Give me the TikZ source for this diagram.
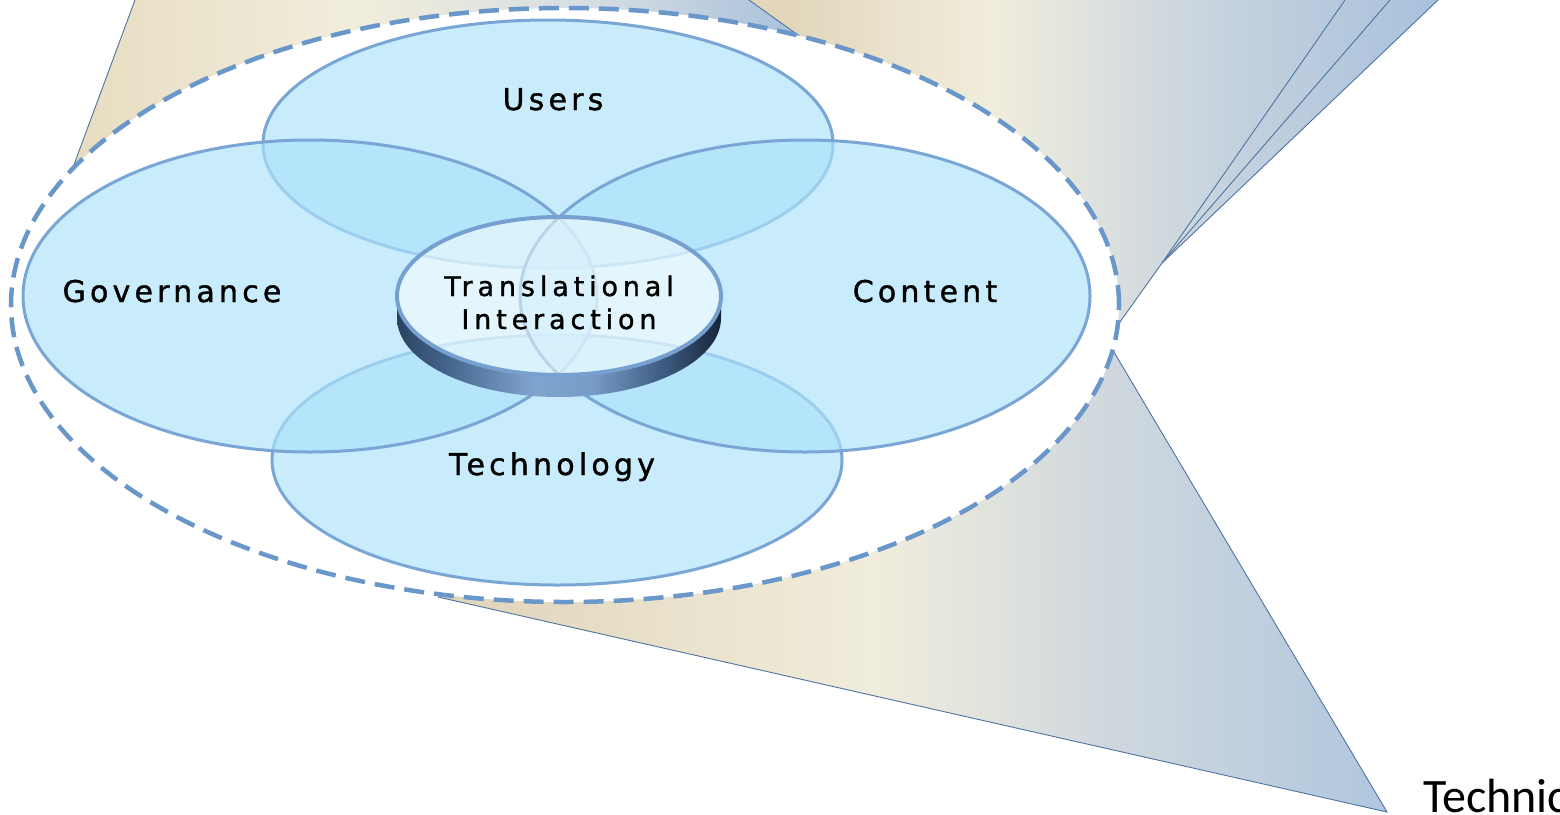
\documentclass[tikz,border=0pt]{standalone}
\usepackage{fontspec}
\newfontfamily\vennfont[LetterSpace=14,FakeBold=1.2]{DejaVu Sans}
\newfontfamily\discfont[LetterSpace=18,FakeBold=1.2]{DejaVu Sans}
\newfontfamily\calfont{Carlito}
\definecolor{fanline}{RGB}{79,115,160}
\definecolor{dashblue}{RGB}{106,151,201}
\definecolor{vennfill}{RGB}{173,227,250}
\definecolor{vennline}{RGB}{122,166,214}
\definecolor{faceline}{RGB}{118,160,208}
\definecolor{aBeige}{RGB}{230,220,192}
\definecolor{aCream}{RGB}{242,238,221}
\definecolor{aGrey}{RGB}{212,220,226}
\definecolor{aBlue}{RGB}{168,192,220}
\definecolor{bBeige}{RGB}{226,215,188}
\definecolor{bCream}{RGB}{241,237,221}
\definecolor{bGrey}{RGB}{200,212,222}
\definecolor{bBlue}{RGB}{166,192,220}
\definecolor{cBeige}{RGB}{224,212,184}
\definecolor{cCream}{RGB}{241,237,220}
\definecolor{cGrey}{RGB}{208,216,222}
\definecolor{cBlue}{RGB}{176,199,222}
\definecolor{dsA}{RGB}{42,66,96}
\definecolor{dsB}{RGB}{70,102,142}
\definecolor{dsC}{RGB}{128,164,208}
\definecolor{dsD}{RGB}{120,156,200}
\definecolor{dsE}{RGB}{62,92,130}
\definecolor{dsF}{RGB}{22,36,56}
\pgfdeclarehorizontalshading{fanA}{100bp}{color(0bp)=(aBeige); color(25bp)=(aBeige); color(44bp)=(aCream); color(61bp)=(aGrey); color(75bp)=(aBlue); color(100bp)=(aBlue)}
\pgfdeclarehorizontalshading{fanB}{100bp}{color(0bp)=(bBeige); color(29bp)=(bBeige); color(43bp)=(bCream); color(58bp)=(bGrey); color(75bp)=(bBlue); color(100bp)=(bBlue)}
\pgfdeclarehorizontalshading{fanC}{100bp}{color(0bp)=(cBeige); color(25bp)=(cBeige); color(48bp)=(cCream); color(60bp)=(cGrey); color(75bp)=(cBlue); color(100bp)=(cBlue)}
\pgfdeclarehorizontalshading{discside}{100bp}{color(0bp)=(dsA); color(25bp)=(dsA); color(33bp)=(dsB); color(46bp)=(dsC); color(55bp)=(dsD); color(66bp)=(dsE); color(75bp)=(dsF); color(100bp)=(dsF)}
\tikzset{
  edge/.style={fanline, line width=0.9pt},
  venn/.style={fill=vennfill, fill opacity=0.67, draw=vennline, draw opacity=1, line width=3pt},
  lbl/.style={font=\vennfont\fontsize{30}{32}\selectfont, text=black, inner sep=0pt, anchor=base},
  disclbl/.style={font=\discfont\fontsize{27}{30}\selectfont, text=black, inner sep=0pt, anchor=base},
}
\begin{document}
\begin{tikzpicture}[x=1pt, y=-1pt]
\useasboundingbox (0,0) rectangle (1560,814);
\clip (0,0) rectangle (1560,814);
% background fans
\path[shading=fanA] (138.7,-10) -- (72,170) -- (300,250) -- (805,40) -- (735,-10) -- cycle;
\path[shading=fanB] (735,-10) -- (805,40) -- (900,200) -- (1105,343) -- (1162,263) -- (1448.5,-10) -- cycle;
\path[shading=fanC] (438,597) -- (1387,812) -- (1105,337) -- (700,450) -- cycle;
\coordinate (a1) at (138.7,-10); \coordinate (a2) at (72,170);
\coordinate (b1) at (735,-10); \coordinate (b2) at (805,40);
\coordinate (t1) at (1352,-10); \coordinate (t2) at (1398.7,-10); \coordinate (t3) at (1448.5,-10);
\coordinate (hub) at (1162,263); \coordinate (hubin) at (1105,343);
\coordinate (c1) at (438,597); \coordinate (c2) at (1387,812); \coordinate (c3) at (1105,337);
\draw[edge] (a1) -- (a2);
\draw[edge] (b1) -- (b2);
\draw[edge] (t1) -- (hub);
\draw[edge] (t2) -- (hub);
\draw[edge] (t3) -- (hub) -- (hubin);
\draw[edge] (c1) -- (c2) -- (c3);
% white dashed ellipse
\draw[dashblue, line width=4.5pt, dash pattern=on 20pt off 10pt, fill=white] (565,305) ellipse [x radius=554pt, y radius=297pt];
% venn ellipses
\draw[venn] (548,144) ellipse [x radius=285pt, y radius=124pt];
\draw[venn] (557,460) ellipse [x radius=285pt, y radius=125pt];
\draw[venn] (310,296) ellipse [x radius=287pt, y radius=156pt];
\draw[venn] (805,296) ellipse [x radius=285pt, y radius=156pt];
% disc
\path[shading=discside] (397,296) -- (397,318) arc[start angle=180, end angle=360, x radius=162pt, y radius=79pt] -- (721,296) arc[start angle=0, end angle=-180, x radius=162pt, y radius=79pt] -- cycle;
\draw[faceline, line width=4pt, fill=white, fill opacity=0.5] (559,296) ellipse [x radius=162pt, y radius=79pt];
% labels
\node[lbl] (users) at (553,110) {Users};
\node[lbl] (gov) at (172,302) {Governance};
\node[lbl] (content) at (925,302) {Content};
\node[lbl] (tech) at (552,475) {Technology};
\node[disclbl] (trans) at (559,296) {Translational};
\node[disclbl] (inter) at (559,329) {Interaction};
\node[font=\calfont\fontsize{48}{52}\selectfont, text=black, inner sep=0pt, anchor=base west] (technic) at (1423,812) {Technic};
\end{tikzpicture}
\end{document}
